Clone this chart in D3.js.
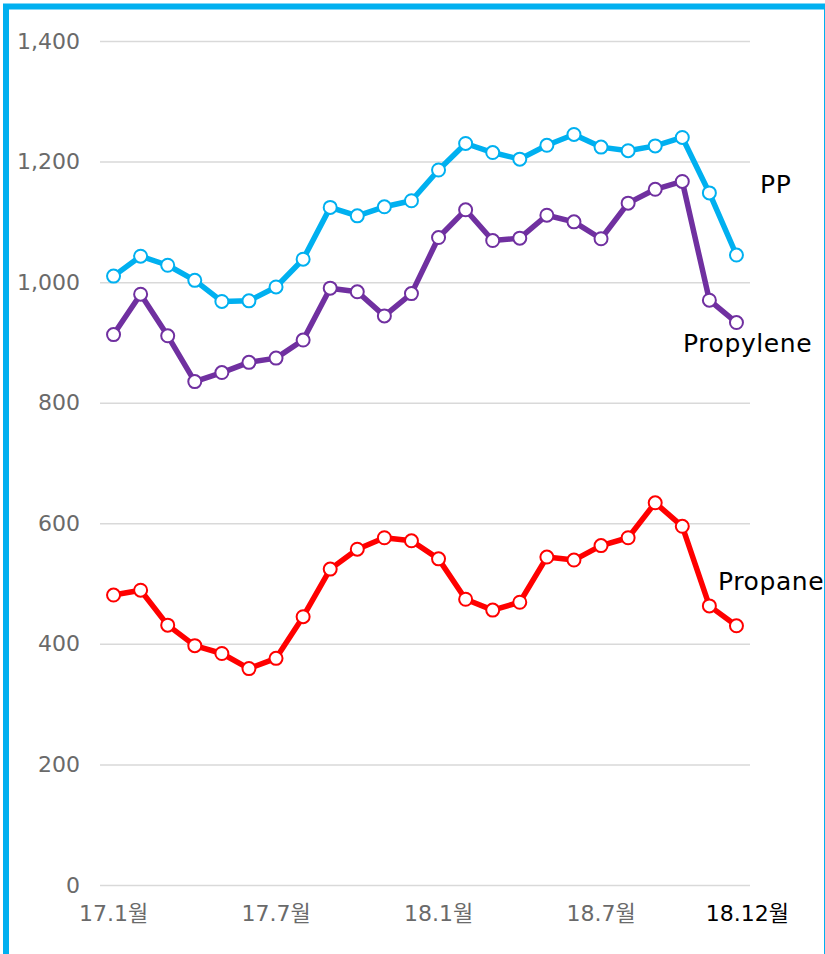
<!DOCTYPE html>
<html>
<head>
<meta charset="utf-8">
<script src="https://cdn.jsdelivr.net/npm/d3@7"></script>
<style>
  html, body { margin: 0; padding: 0; background: #fff; }
  svg { display: block; }
</style>
</head>
<body>
<div id="chart"></div>
<script>
// 월별 카테고리 (17.1 ~ 18.12)
const months = ["17.1","17.2","17.3","17.4","17.5","17.6","17.7","17.8","17.9","17.10","17.11","17.12",
                "18.1","18.2","18.3","18.4","18.5","18.6","18.7","18.8","18.9","18.10","18.11","18.12"];
const tickMonths = ["17.1","17.7","18.1","18.7","18.12"];
const yTicks = [0, 200, 400, 600, 800, 1000, 1200, 1400];

const ppValues = [1010,1043,1028,1003,968,969,992,1038,1124,1110,1125,1135,
                  1186,1230,1215,1204,1227,1245,1224,1218,1226,1240,1148,1045];
const propyleneValues = [913,980,911,835,850,867,874,904,990,984,944,981,
                         1074,1120,1069,1073,1111,1100,1072,1131,1154,1167,970,933];
const propaneValues = [481,489,431,397,384,359,376,445,524,557,576,571,
                       541,474,456,469,544,539,563,576,634,595,463,430];

const seriesNames = ["PP", "Propylene", "Propane"];
const seriesColors = ["#00b0f0", "#7030a0", "#ff0000"];

const width = 825, height = 954;
const marginLeft = 100, marginRight = 75, marginTop = 41, marginBottom = 69;

const series = [ppValues, propyleneValues, propaneValues].map((vals, i) => ({
  name: seriesNames[i],
  color: seriesColors[i],
  values: vals.map((v, j) => ({ month: months[j], value: v }))
}));

const svg = d3.select("#chart").append("svg")
    .attr("width", width)
    .attr("height", height);

const x = d3.scaleBand()
    .domain(months)
    .range([marginLeft, width - marginRight]);

const y = d3.scaleLinear()
    .domain([0, 1400])
    .range([height - marginBottom, marginTop]);

const font = "'DejaVu Sans', 'Noto Sans CJK KR', sans-serif";

// 눈금선 + y축 라벨
svg.append("g")
    .attr("transform", `translate(${marginLeft},0)`)
    .call(d3.axisLeft(y).tickValues(yTicks).tickFormat(d3.format(",")).tickSize(0).tickPadding(20))
    .call(g => g.select(".domain").remove())
    .call(g => g.selectAll(".tick line").clone()
        .attr("x2", width - marginLeft - marginRight)
        .attr("stroke", "#d9d9d9")
        .attr("stroke-width", 1.5))
    .call(g => g.selectAll(".tick text")
        .attr("fill", "#6a6a6a")
        .attr("font-size", 22)
        .attr("font-family", font));

// x축 라벨 (band 축은 이미 가운데 정렬, 마지막 라벨만 약간 오른쪽)
svg.append("g")
    .attr("transform", `translate(0,${height - marginBottom})`)
    .call(d3.axisBottom(x).tickValues(tickMonths).tickFormat(d => d + "월").tickSize(0).tickPadding(20))
    .call(g => g.select(".domain").remove())
    .call(g => g.selectAll(".tick text")
        .attr("fill", d => d === "18.12" ? "#000" : "#6a6a6a")
        .attr("dx", d => d === "18.12" ? 11 : 0)
        .attr("font-size", 22)
        .attr("font-family", font));

const line = d3.line()
    .x(d => x(d.month) + x.bandwidth() / 2)
    .y(d => y(d.value));

const g = svg.append("g")
  .selectAll("g")
  .data(series)
  .join("g");

g.append("path")
    .attr("fill", "none")
    .attr("stroke", d => d.color)
    .attr("stroke-width", 5.5)
    .attr("stroke-linejoin", "round")
    .attr("d", d => line(d.values));

g.selectAll("circle")
  .data(d => d.values.map(v => ({ ...v, color: d.color })))
  .join("circle")
    .attr("cx", d => x(d.month) + x.bandwidth() / 2)
    .attr("cy", d => y(d.value))
    .attr("r", 6.5)
    .attr("fill", "#fff")
    .attr("stroke", d => d.color)
    .attr("stroke-width", 2);

// 계열 라벨
const labelPos = [[760, 193], [683, 352], [718, 590]];
svg.append("g")
  .selectAll("text")
  .data(series)
  .join("text")
    .attr("x", (d, i) => labelPos[i][0])
    .attr("y", (d, i) => labelPos[i][1])
    .attr("font-size", 25)
    .attr("letter-spacing", 0.6)
    .attr("font-family", font)
    .attr("fill", "#000")
    .text(d => d.name);

// 테두리
svg.append("rect")
    .attr("x", 6)
    .attr("y", 6.5)
    .attr("width", 821)
    .attr("height", 1000)
    .attr("fill", "none")
    .attr("stroke", "#00b0f0")
    .attr("stroke-width", 6);
</script>
</body>
</html>
